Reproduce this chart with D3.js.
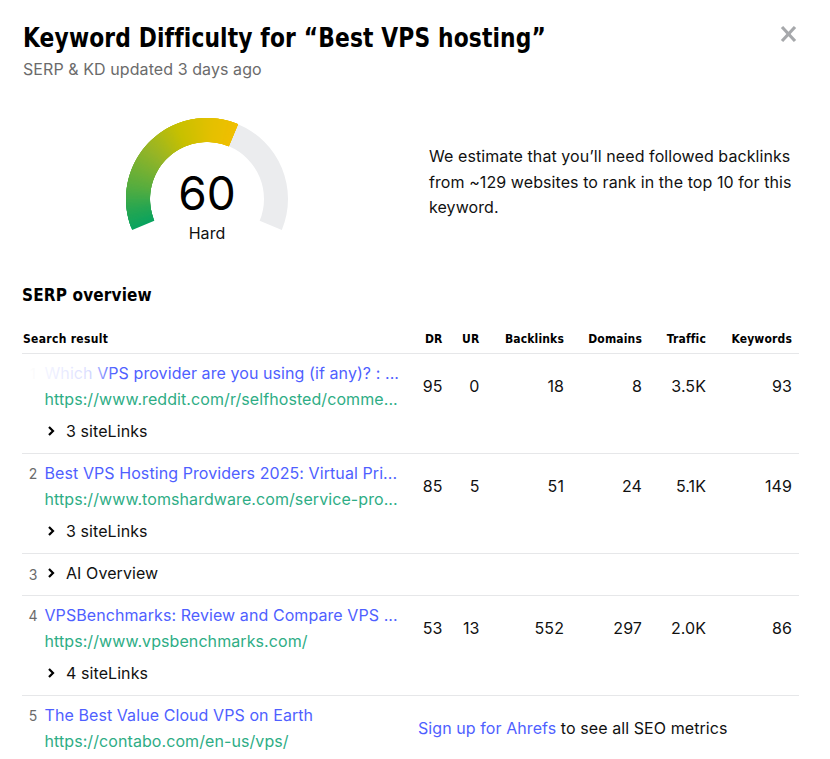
<!DOCTYPE html>
<html>
<head>
<meta charset="utf-8">
<script src="https://cdn.jsdelivr.net/npm/d3@7"></script>
<style>
  html, body { margin: 0; padding: 0; background: #fff; overflow: hidden; }
  text { font-family: Inter, "Noto Sans", sans-serif; letter-spacing: 0.08px; }
  .head { font-family: "DejaVu Sans Condensed", "Liberation Sans Narrow", Inter, sans-serif; font-weight: 700; fill: #000; letter-spacing: 0.15px; }
</style>
</head>
<body>
<svg id="chart"></svg>
<script>
const kdValue = 60;
const kdLabel = "Hard";
const titleText = "Keyword Difficulty for “Best VPS hosting”";
const updatedText = "SERP & KD updated 3 days ago";
const estimateLines = [
  "We estimate that you’ll need followed backlinks",
  "from ~129 websites to rank in the top 10 for this",
  "keyword."
];

const metricNames = ["DR", "UR", "Backlinks", "Domains", "Traffic", "Keywords"];
const positions = [1, 2, 3, 4, 5];
const resultTitles = [
  "Which VPS provider are you using (if any)? : ...",
  "Best VPS Hosting Providers 2025: Virtual Pri...",
  "AI Overview",
  "VPSBenchmarks: Review and Compare VPS ...",
  "The Best Value Cloud VPS on Earth"
];
const resultUrls = [
  "https://www.reddit.com/r/selfhosted/comme...",
  "https://www.tomshardware.com/service-pro...",
  null,
  "https://www.vpsbenchmarks.com/",
  "https://contabo.com/en-us/vps/"
];
const siteLinks = ["3 siteLinks", "3 siteLinks", null, "4 siteLinks", null];
const drValues = ["95", "85", null, "53", null];
const urValues = ["0", "5", null, "13", null];
const backlinkValues = ["18", "51", null, "552", null];
const domainValues = ["8", "24", null, "297", null];
const trafficValues = ["3.5K", "5.1K", null, "2.0K", null];
const keywordValues = ["93", "149", null, "86", null];
const metricSeries = [drValues, urValues, backlinkValues, domainValues, trafficValues, keywordValues];

const width = 830, height = 759;
const blue = "#4f5fff", green = "#2ead85", grey = "#6b6b6b", rule = "#e6e7e9";

const svg = d3.select("#chart").attr("width", width).attr("height", height).style("display", "block");

// heading
svg.append("text").attr("class", "head").attr("x", 23).attr("y", 47)
  .attr("font-size", 26).attr("textLength", 523).attr("lengthAdjust", "spacingAndGlyphs").text(titleText);
svg.append("text").attr("x", 23).attr("y", 75).attr("font-size", 16).attr("fill", grey).text(updatedText);

// close cross
svg.append("path").attr("d", d3.line()([[782, 27], [795, 41]])).attr("stroke", "#a6a8ab").attr("stroke-width", 3.2);
svg.append("path").attr("d", d3.line()([[795, 27], [782, 41]])).attr("stroke", "#a6a8ab").attr("stroke-width", 3.2);

// gauge
const toRad = Math.PI / 180;
const angle = d3.scaleLinear().domain([0, 100]).range([-112.5 * toRad, 112.5 * toRad]);
const gaugeColor = d3.scaleLinear()
  .domain([0, 6, 14, 28, 40, 52, 60])
  .range(["#0aa35f", "#25a652", "#56ad3f", "#97b526", "#c8c000", "#e5c000", "#f0bf00"]);
const arc = d3.arc().innerRadius(57).outerRadius(81);
const gauge = svg.append("g").attr("transform", "translate(207,199)");
gauge.append("path").attr("fill", "#ebecee")
  .attr("d", arc({ startAngle: angle(kdValue), endAngle: angle(100) }));
// each slice runs under the next one so no seams show
gauge.selectAll(".seg")
  .data(d3.range(0, kdValue, 0.5))
  .join("path")
  .attr("class", "seg")
  .attr("fill", d => gaugeColor(d))
  .attr("d", d => arc({ startAngle: angle(d), endAngle: angle(Math.min(d + 2, kdValue)) }));
gauge.append("text").attr("text-anchor", "middle").attr("y", 11).attr("font-size", 46).attr("fill", "#000").text(kdValue);
gauge.append("text").attr("text-anchor", "middle").attr("y", 40).attr("font-size", 16).attr("fill", "#111").text(kdLabel);

// estimate
svg.append("g").selectAll("text").data(estimateLines).join("text")
  .attr("x", 429).attr("y", (d, i) => 162 + i * 25.5)
  .attr("font-size", 16).attr("fill", "#111").text(d => d);

svg.append("text").attr("class", "head").attr("x", 22).attr("y", 301).attr("font-size", 17).text("SERP overview");

// table
const metricX = d3.scaleOrdinal().domain(metricNames).range([442.5, 479.5, 564, 642, 706, 792]);
svg.append("text").attr("class", "head").attr("x", 23).attr("y", 343).attr("font-size", 12)
  .attr("textLength", 85).text("Search result");
svg.append("g").selectAll("text").data(metricNames).join("text")
  .attr("class", "head").attr("x", d => metricX(d)).attr("y", 343)
  .attr("text-anchor", "end").attr("font-size", 12).text(d => d);

const rowTop = [353, 453, 553, 595, 695];
svg.append("g").selectAll("line").data(rowTop).join("line")
  .attr("x1", 22).attr("x2", 799).attr("y1", d => d + 0.5).attr("y2", d => d + 0.5)
  .attr("stroke", rule);

const chevron = (g, x, y) => g.append("path")
  .attr("d", d3.line()([[x, y - 4], [x + 4, y], [x, y + 4]]))
  .attr("fill", "none").attr("stroke", "#000").attr("stroke-width", 2.2);

positions.forEach((pos, i) => {
  const top = rowTop[i];
  const g = svg.append("g").attr("transform", `translate(0,${top})`);
  const isOverview = resultUrls[i] === null;
  g.append("text").attr("x", 33).attr("y", isOverview ? 27 : 26).attr("text-anchor", "middle")
    .attr("font-size", 14).attr("fill", grey).text(pos);
  if (isOverview) {
    chevron(g, 49, 20);
    g.append("text").attr("x", 66).attr("y", 26).attr("font-size", 16).attr("fill", "#111").text(resultTitles[i]);
    return;
  }
  g.append("text").attr("x", 44.5).attr("y", 26).attr("font-size", 16).attr("fill", blue).text(resultTitles[i]);
  g.append("text").attr("x", 44.5).attr("y", 52).attr("font-size", 16).attr("fill", green).text(resultUrls[i]);
  if (siteLinks[i]) {
    chevron(g, 49, 78);
    g.append("text").attr("x", 66).attr("y", 84).attr("font-size", 16).attr("fill", "#111").text(siteLinks[i]);
  }
  metricNames.forEach((name, m) => {
    const v = metricSeries[m][i];
    if (v === null) return;
    g.append("text").attr("x", metricX(name)).attr("y", 39).attr("text-anchor", "end")
      .attr("font-size", 16).attr("fill", "#111").text(v);
  });
});

// the reference has the start of the first result washed out
const wash = svg.append("defs").append("linearGradient").attr("id", "wash");
wash.append("stop").attr("offset", "0%").attr("stop-color", "#fff").attr("stop-opacity", 1);
wash.append("stop").attr("offset", "72%").attr("stop-color", "#fff").attr("stop-opacity", 0.8);
wash.append("stop").attr("offset", "100%").attr("stop-color", "#fff").attr("stop-opacity", 0);
svg.append("rect").attr("x", 24).attr("y", 362).attr("width", 90).attr("height", 24).attr("fill", "url(#wash)");

// sign up note on the last row
const note = svg.append("text").attr("x", 418).attr("y", 734).attr("font-size", 16);
note.append("tspan").attr("fill", blue).text("Sign up for Ahrefs");
note.append("tspan").attr("fill", "#111").text(" to see all SEO metrics");
</script>
</body>
</html>
